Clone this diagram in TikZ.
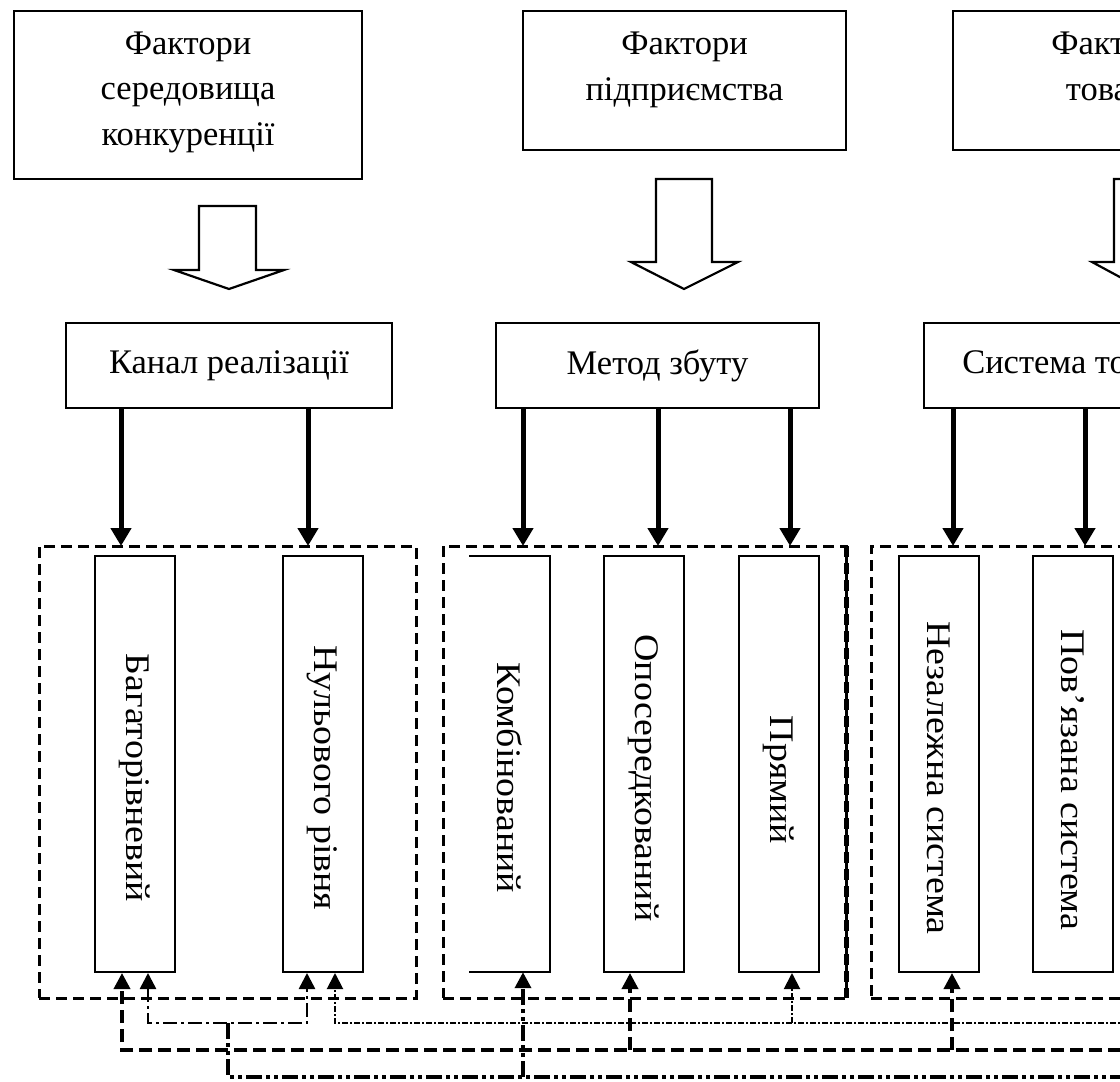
\documentclass[tikz,border=0pt]{standalone}
\usepackage{fontspec}
\setmainfont{Liberation Serif}
\usetikzlibrary{arrows.meta}
\begin{document}
\begin{tikzpicture}[x=1pt,y=-1pt,
 every node/.style={font=\fontsize{34.5}{45.5}\selectfont},
 lbl/.style={align=center,inner sep=0pt},
 topbox/.style={draw,line width=2.6pt,inner sep=0pt},
 vbox/.style={minimum width=80,minimum height=416,inner sep=0pt},
 vtext/.style={rotate=-90,inner sep=0pt},
 grpbox/.style={draw,line width=3pt,dash pattern=on 11pt off 6pt,minimum height=452,inner sep=0pt,outer sep=0pt},
 hollow/.style={draw,line width=2.2pt,line join=miter},
 downarr/.style={line width=5pt,-{Triangle[width=20pt,length=18pt]}},
 uparr/.style={-{Triangle[width=16pt,length=16pt]}},
 fbB/.style={line width=3.6pt,dash pattern=on 13pt off 6pt},
 fbA1/.style={line width=2.6pt,dash pattern=on 14pt off 4pt on 3pt off 4pt},
 fbA2/.style={line width=2pt,dash pattern=on 6pt off 2pt on 2pt off 2pt},
 fbC/.style={line width=3.6pt,dash pattern=on 16pt off 4pt on 4pt off 4pt on 4pt off 4pt}]
 \useasboundingbox (0,0) rectangle (1120,1082);
 \clip (0,0) rectangle (1120,1082);
 % factors
 \node [topbox,minimum width=348,minimum height=168] (fsc) at (188,95) {};
 \node [lbl] (fsc-t) at (188,92) {Фактори\\середовища\\конкуренції};
 \node [topbox,minimum width=323,minimum height=139] (fp) at (684.5,80.5) {};
 \node [lbl] (fp-t) at (684.5,70) {Фактори\\підприємства};
 \node [topbox,minimum width=323,minimum height=139] (ft) at (1114.5,80.5) {};
 \node [lbl] (ft-t) at (1114.5,70) {Фактори\\товару};
 % block arrows
 \draw [hollow,shift={(228,0)}] (-29,206) -- (28,206) -- (28,270) -- (56,270) -- (1,289) -- (-54,270) -- (-29,270) -- cycle;
 \draw [hollow,shift={(684,0)}] (-28,179) -- (28,179) -- (28,262) -- (54,262) -- (0,289) -- (-53,262) -- (-28,262) -- cycle;
 \draw [hollow,shift={(1142,0)}] (-28,179) -- (28,179) -- (28,262) -- (54,262) -- (0,289) -- (-50,262) -- (-28,262) -- cycle;
 % channels
 \node [topbox,minimum width=326,minimum height=85] (kr) at (229,365.5) {Канал реалізації};
 \node [topbox,minimum width=323,minimum height=85] (mz) at (657.5,365.5) {Метод збуту};
 \node [topbox,minimum width=374,minimum height=85] (st) at (1111,365.5) {Система товароруху};
 % groups
 \node [grpbox,minimum width=377] (g1) at (227.5,772) {};
 \node [grpbox,minimum width=403] (g2) at (644.5,772) {};
 \node [grpbox,minimum width=430] (g3) at (1086,772) {};
 \draw [line width=5pt,dash pattern=on 11pt off 6pt] (g2.north east) -- (g2.south east);
 % vertical boxes
 \node [vbox,draw,line width=2pt] (b1) at (135,764) {};
 \node [vbox,draw,line width=2pt] (b2) at (322.5,764) {};
 \node [vbox] (b3) at (509.5,764) {};
 \draw [line width=2pt] (b3.north west) -- (b3.north east) -- (b3.south east) -- (b3.south west);
 \node [vbox,draw,line width=2pt] (b4) at (643.5,764) {};
 \node [vbox,draw,line width=2pt] (b5) at (778.5,764) {};
 \node [vbox,draw,line width=2pt] (b6) at (938.5,764) {};
 \node [vbox,draw,line width=2pt] (b7) at (1073,764) {};
 \node [vtext] (b1-t) at (135,778) {\scalebox{1.1}[1]{Багаторівневий}};
 \node [vtext] (b2-t) at (322.5,778) {\scalebox{1.1}[1]{Нульового рівня}};
 \node [vtext] (b3-t) at (509.5,778) {\scalebox{1.1}[1]{Комбінований}};
 \node [vtext] (b4-t) at (643.5,778) {\scalebox{1.1}[1]{Опосередкований}};
 \node [vtext] (b5-t) at (778.5,780) {\scalebox{1.1}[1]{Прямий}};
 \node [vtext] (b6-t) at (938.5,778) {\scalebox{1.1}[1]{Незалежна система}};
 \node [vtext] (b7-t) at (1073,780) {\scalebox{1.1}[1]{Пов’язана система}};
 % down arrows
 \draw [downarr] (kr.south -| 121,0) -- (g1.north -| 121,0);
 \draw [downarr] (kr.south -| 308,0) -- (g1.north -| 308,0);
 \draw [downarr] (mz.south -| 523,0) -- (g2.north -| 523,0);
 \draw [downarr] (mz.south -| 658,0) -- (g2.north -| 658,0);
 \draw [downarr] (mz.south -| 790,0) -- (g2.north -| 790,0);
 \draw [downarr] (st.south -| 953,0) -- (g3.north -| 953,0);
 \draw [downarr] (st.south -| 1085,0) -- (g3.north -| 1085,0);
 % feedback
 \coordinate (eA) at (1140,1023);
 \coordinate (eB) at (1140,1050);
 \coordinate (eC) at (1140,1077);
 \draw [fbB,uparr] (eB) -| (b1.south -| 122,0);
 \draw [fbB,uparr] (eB -| 630,0) -- (b4.south -| 630,0);
 \draw [fbB,uparr] (eB -| 952,0) -- (b6.south -| 952,0);
 \draw [fbA1,{Triangle[width=16pt,length=16pt]}-{Triangle[width=16pt,length=16pt]}] (b1.south -| 148,0) |- (eA -| 307,0) -- (b2.south -| 307,0);
 \draw [fbC] (eA -| 228,0) |- (eC);
 \draw [fbC,uparr] (eC -| 523,0) -- (b3.south -| 523,0);
 \draw [fbA2,uparr] (eA) -| (b2.south -| 335,0);
 \draw [fbA2,uparr] (eA -| 792,0) -- (b5.south -| 792,0);
\end{tikzpicture}
\end{document}
